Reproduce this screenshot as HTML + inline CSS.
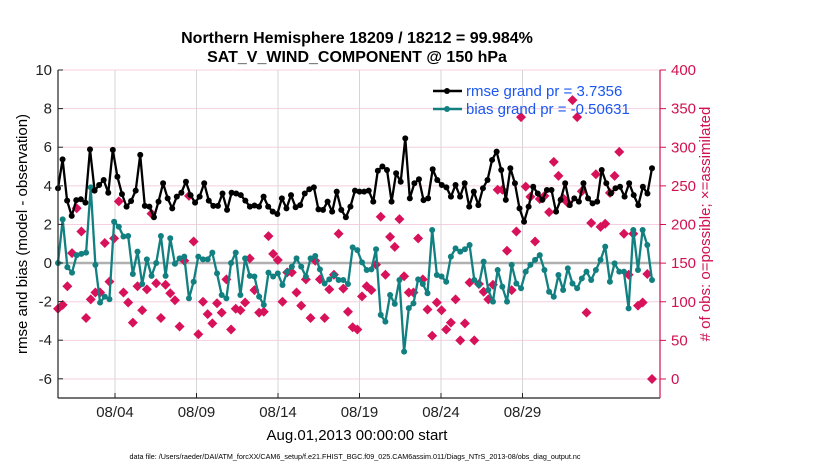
<!DOCTYPE html>
<html><head><meta charset="utf-8"><style>
body{margin:0;background:#fff;font-family:"Liberation Sans",sans-serif}
svg{display:block}
</style></head><body>
<svg id="chart" width="830" height="470" xmlns="http://www.w3.org/2000/svg" font-family="Liberation Sans, sans-serif">
<text x="357" y="43" text-anchor="middle" font-size="16" font-weight="bold">Northern Hemisphere 18209 / 18212 = 99.984%</text>
<text x="357" y="62" text-anchor="middle" font-size="16" font-weight="bold">SAT_V_WIND_COMPONENT @ 150 hPa</text>
<g id="grid"></g>
<g id="marks"></g>
<g id="axes"></g>
<text transform="translate(27,234) rotate(-90)" text-anchor="middle" font-size="15">rmse and bias (model - observation)</text>
<text transform="translate(710,224) rotate(-90)" text-anchor="middle" font-size="15" fill="#d11150">#  of obs: o=possible; ×=assimilated</text>
<text x="357" y="440" text-anchor="middle" font-size="15">Aug.01,2013 00:00:00 start</text>
<text x="355" y="459" text-anchor="middle" font-size="7.2">data file: /Users/raeder/DAI/ATM_forcXX/CAM6_setup/f.e21.FHIST_BGC.f09_025.CAM6assim.011/Diags_NTrS_2013-08/obs_diag_output.nc</text>
<g>
<line x1="433" y1="91" x2="462" y2="91" stroke="#000" stroke-width="2.5"/><circle cx="447" cy="91" r="3" fill="#000"/>
<text x="466" y="96" font-size="15" fill="#1a56f0">rmse grand pr = 3.7356</text>
<line x1="433" y1="109" x2="462" y2="109" stroke="#128080" stroke-width="2.5"/><circle cx="447" cy="109" r="3" fill="#128080"/>
<text x="466" y="114" font-size="15" fill="#1a56f0">bias grand pr = -0.50631</text>
</g>
</svg>
<script>
const xTickLabels=["08/04","08/09","08/14","08/19","08/24","08/29"];
const xTickDays=[4,9,14,19,24,29];
const yTicksLeft=[10,8,6,4,2,0,-2,-4,-6];
const yTicksRight=[400,350,300,250,200,150,100,50,0];
const rmse=[3.87,5.37,3.23,2.44,3.26,3.3,3.13,5.89,3.75,4.04,4.3,3.64,5.86,4.47,3.57,2.92,3.21,3.75,5.6,2.96,2.92,2.37,3.18,4.13,3.35,2.83,3.44,3.64,4.21,3.52,3.13,3.44,4.13,3.23,2.96,2.96,3.6,2.75,3.64,3.6,3.52,3.23,2.92,
2.98,2.92,3.44,2.92,2.66,2.54,3.35,2.83,3.52,2.89,3.0,3.6,3.82,3.92,2.78,2.75,3.18,2.66,3.7,2.75,2.37,2.92,3.75,3.7,3.7,3.75,3.18,4.78,5.0,4.82,3.18,4.65,4.21,6.46,3.35,4.13,4.34,3.26,3.35,4.86,4.3,4.04,3.92,3.44,4.04,
3.44,4.13,2.92,3.7,3.0,3.87,4.3,5.34,5.77,4.82,3.27,4.91,4.13,2.83,2.14,2.92,3.95,3.6,3.27,3.78,3.78,2.66,3.27,4.13,3.0,3.35,3.18,4.13,3.35,3.09,3.18,4.82,4.13,3.6,3.87,3.95,3.44,4.13,3.52,3.0,3.95,3.6,4.91];
const bias=[0.0,2.26,-0.22,-0.5,0.41,0.47,0.54,3.92,-0.1,-2.05,-1.74,-1.88,2.14,1.88,1.37,1.4,-0.57,0.59,-1.09,0.19,-0.67,0,1.4,-0.67,1.28,-0.04,0.24,0.33,-1.83,-0.97,0.33,0.19,0.19,0.54,-0.54,-1.66,-1.83,0,0.54,-1.66,0.24,-0.67,-0.7,
-1.74,-2.17,-0.5,-0.7,-0.54,-1.14,-0.45,-0.19,0.24,-0.19,-0.7,0.24,0.36,-0.33,-1.06,-0.85,-0.62,-0.88,-0.88,-1.09,0.81,0.67,0.03,-0.36,-0.33,0.71,-2.69,-3.04,-1.66,-2.12,-0.88,-4.59,-2.34,-2.09,-0.85,-1.09,-1.57,1.71,-0.62,-0.7,-0.97,0.33,0.76,
0.59,0.71,0.93,-0.88,-1.14,0.07,-1.4,-2.0,-0.36,-1.23,-2.0,-0.1,-1.06,-1.31,-0.45,-0.1,0.16,0.41,-0.36,-1.49,-1.75,-0.62,-1.4,-0.28,-1.06,-1.31,-0.8,-0.45,-0.88,-0.36,0.16,0.85,-0.97,-0.02,-0.45,-0.45,-2.35,1.71,-0.36,1.71,0.93,-0.88];
const obsCount=[91,96,120,163,221,191,79,103,112,112,176,126,182,230,112,99,73,120,89,116,214,124,79,122,111,102,68,153,237,178,58,100,84,72,98,86,129,64,91,89,99,156,115,86,
87,185,162,154,100,138,138,112,95,129,79,153,129,79,116,135,188,117,87,67,64,107,120,115,148,210,135,184,171,207,133,112,112,182,129,90,56,99,89,64,73,103,50,
72,125,50,123,113,103,122,245,245,166,115,191,339,249,236,178,233,237,216,281,263,234,228,361,339,243,86,202,265,197,201,241,263,294,188,135,188,95,99,136,0];
const NS="http://www.w3.org/2000/svg";
const X0=58,X1=660,YT=70,YB=398;
const xFirst=58,xLast=652;
function xIdx(i,n){return xFirst+(xLast-xFirst)*i/(n-1);}
function xDay(d){return 115+(d-4)*16.3;}
function yL(v){return 263-v*19.3;}
function yR(v){return 379-v*0.7725;}
function mk(tag,attrs,parent){const e=document.createElementNS(NS,tag);for(const k in attrs)e.setAttribute(k,attrs[k]);parent.appendChild(e);return e;}
const grid=document.getElementById('grid'),marks=document.getElementById('marks'),axes=document.getElementById('axes');
mk('rect',{x:X0,y:YT,width:X1-X0,height:YB-YT,fill:'#fff',stroke:'#d0d0d0','stroke-width':1},grid);
yTicksRight.forEach(v=>{const l=mk('line',{x1:X0,x2:X1,y1:yR(v),y2:yR(v),stroke:'#f5cfe0','stroke-width':1},grid);

});
xTickDays.forEach(d=>{const l=mk('line',{x1:xDay(d),x2:xDay(d),y1:YT,y2:YB,stroke:'#d6d6d6','stroke-width':1},grid);

});
const z=mk('line',{x1:X0,x2:X1,y1:yL(0),y2:yL(0),stroke:'#b0b0b0','stroke-width':2.5},grid);


obsCount.forEach((v,i)=>{const cx=xIdx(i,obsCount.length),cy=yR(v),r=5;
const p=mk('path',{d:`M${cx} ${cy-r}L${cx+r} ${cy}L${cx} ${cy+r}L${cx-r} ${cy}Z`,fill:'#d8125a'},marks);

});
function series(arr,color,name){
const pts=arr.map((v,i)=>xIdx(i,arr.length).toFixed(1)+','+yL(v).toFixed(1)).join(' ');
const pl=mk('polyline',{points:pts,fill:'none',stroke:color,'stroke-width':2.3,'stroke-linejoin':'round'},marks);


arr.forEach((v,i)=>{const c=mk('circle',{cx:xIdx(i,arr.length),cy:yL(v),r:3,fill:color},marks);

});}
series(bias,'#128080','bias');
series(rmse,'#000','rmse');
mk('line',{x1:X0,x2:X0,y1:YT,y2:YB,stroke:'#222','stroke-width':1.2},axes);
mk('line',{x1:X0,x2:X1,y1:YB,y2:YB,stroke:'#222','stroke-width':1.2},axes);
mk('line',{x1:X1,x2:X1,y1:YT,y2:YB,stroke:'#d11150','stroke-width':1.2},axes);
yTicksLeft.forEach(v=>{mk('line',{x1:X0,x2:X0+5,y1:yL(v),y2:yL(v),stroke:'#222'},axes);
const t=mk('text',{x:X0-6,y:yL(v)+5,'text-anchor':'end','font-size':15,fill:'#222'},axes);t.textContent=v;

});
yTicksRight.forEach(v=>{mk('line',{x1:X1,x2:X1+6,y1:yR(v),y2:yR(v),stroke:'#d11150'},axes);
const t=mk('text',{x:X1+11,y:yR(v)+5,'font-size':15,fill:'#d11150'},axes);t.textContent=v;

});
xTickDays.forEach((d,i)=>{mk('line',{x1:xDay(d),x2:xDay(d),y1:YB,y2:YB-5,stroke:'#222'},axes);
const t=mk('text',{x:xDay(d),y:YB+19,'text-anchor':'middle','font-size':15,fill:'#222'},axes);t.textContent=xTickLabels[i];

});
</script>
</body></html>
